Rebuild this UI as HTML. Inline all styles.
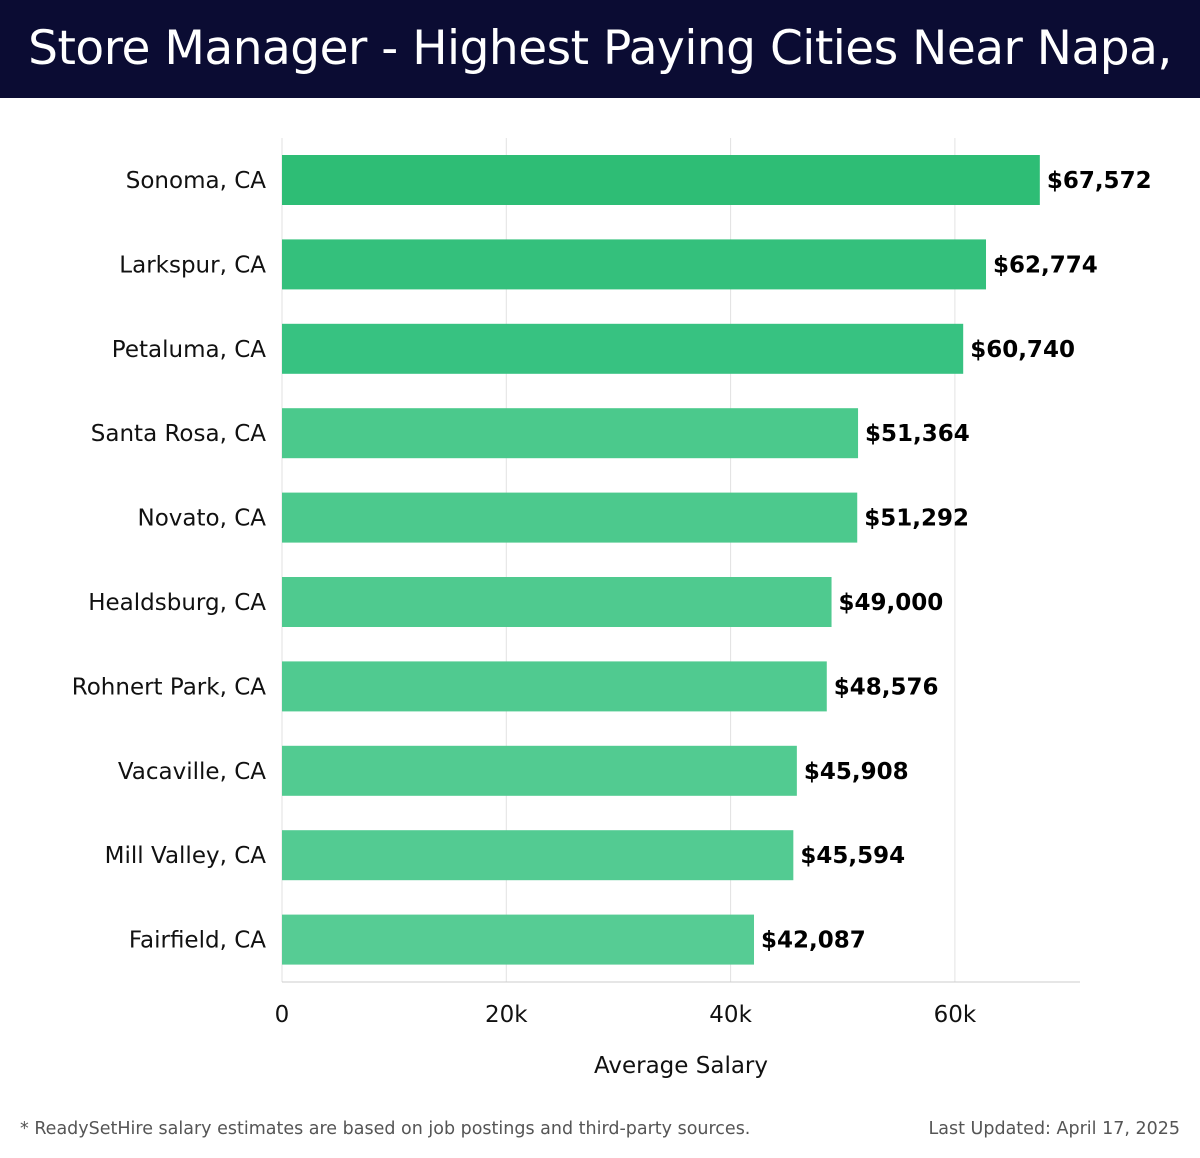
<!DOCTYPE html>
<html><head><meta charset="utf-8"><style>
body{margin:0;width:1200px;height:1158px;background:#fff;font-family:"Liberation Sans",sans-serif;overflow:hidden}
#hdr{position:absolute;left:0;top:0;width:1200px;height:98px;background:#0b0c33;color:#fff;font-size:47px;line-height:98px;text-align:center;font-family:"DejaVu Sans","Liberation Sans",sans-serif;letter-spacing:-0.5px}
.foot{position:absolute;top:1119px;font-size:18px;color:#555;font-family:"DejaVu Sans","Liberation Sans",sans-serif}
</style></head><body>
<div id="hdr">Store Manager - Highest Paying Cities Near Napa, CA</div>
<svg id="chart" width="1200" height="1158" style="position:absolute;left:0;top:0"></svg>
<div class="foot" style="left:20px;font-size:17.5px">* ReadySetHire salary estimates are based on job postings and third-party sources.</div>
<div class="foot" style="right:20px;font-size:17.5px">Last Updated: April 17, 2025</div>
<script>
const cities=["Sonoma, CA","Larkspur, CA","Petaluma, CA","Santa Rosa, CA","Novato, CA","Healdsburg, CA","Rohnert Park, CA","Vacaville, CA","Mill Valley, CA","Fairfield, CA"];
const salaries=[67572,62774,60740,51364,51292,49000,48576,45908,45594,42087];
const ticks=[0,20000,40000,60000];
const tickLabels=["0","20k","40k","60k"];
const colors=["#2ebd75","#34c07c","#37c281","#4bc98c","#4cc98d","#4fca8f","#50ca90","#52cb91","#53cb92","#56cc94"];
const svg=document.getElementById('chart');
const NS="http://www.w3.org/2000/svg";
const x0=282,pxPer=224.3/20000,top0=155,step=84.4,bh=50;
const xs=v=>x0+v*pxPer;
function mk(t,a){const e=document.createElementNS(NS,t);for(const k in a)e.setAttribute(k,a[k]);svg.appendChild(e);return e;}
ticks.forEach((t,i)=>{
 const g=mk('line',{x1:xs(t),x2:xs(t),y1:138,y2:982,stroke:'#e2e2e2','stroke-width':1});
 
 
 const l=mk('text',{x:xs(t),y:1022,'text-anchor':'middle','font-size':23,fill:'#111','font-family':'DejaVu Sans, Liberation Sans, sans-serif'});
 l.textContent=tickLabels[i];
 
 
});
const ax=mk('line',{x1:x0,x2:1080,y1:982,y2:982,stroke:'#ccc','stroke-width':1});


cities.forEach((c,i)=>{
 const y=top0+i*step;
 const r=mk('rect',{x:x0,y:y,width:xs(salaries[i])-x0,height:bh,fill:colors[i]});
 
 
 const l=mk('text',{x:266,y:y+bh/2+8,'text-anchor':'end','font-size':23,fill:'#111','font-family':'DejaVu Sans, Liberation Sans, sans-serif'});
 l.textContent=c;
 
 
 const v=mk('text',{x:xs(salaries[i])+7,y:y+bh/2+8,'font-size':23,'font-weight':'bold',fill:'#000','font-family':'DejaVu Sans, Liberation Sans, sans-serif'});
 v.textContent='$'+salaries[i].toLocaleString('en-US');
 
 
});
const at=mk('text',{x:681,y:1073,'text-anchor':'middle','font-size':23,fill:'#111','font-family':'DejaVu Sans, Liberation Sans, sans-serif'});
at.textContent='Average Salary';


</script>
</body></html>
